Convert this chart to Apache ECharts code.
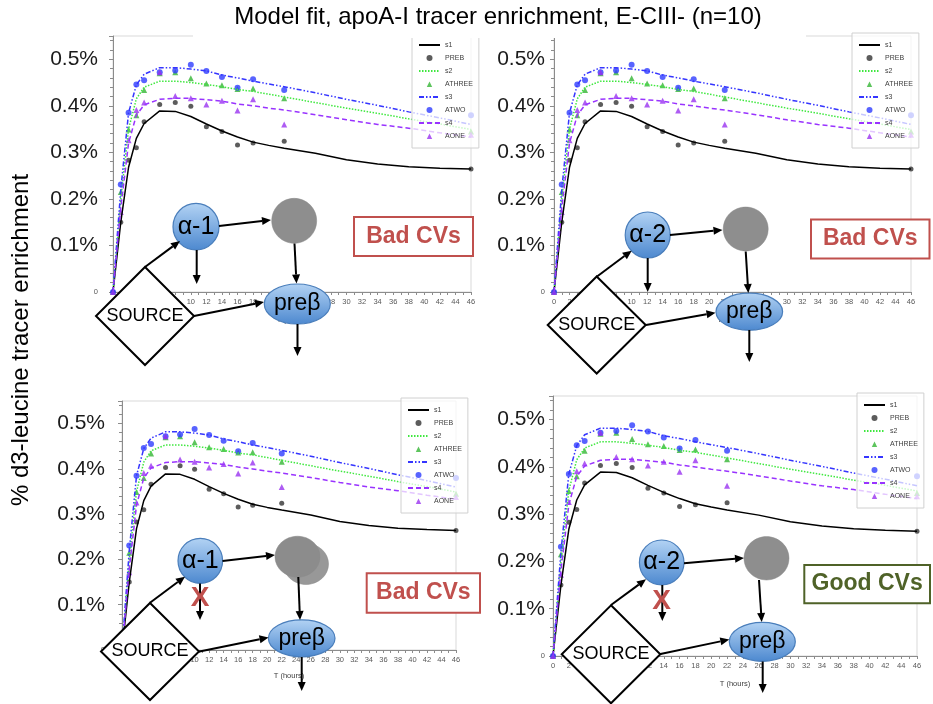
<!DOCTYPE html>
<html><head><meta charset="utf-8">
<script src="https://cdn.jsdelivr.net/npm/echarts@6/dist/echarts.min.js"></script>
<style>html,body{margin:0;padding:0;background:#fff}#c{width:933px;height:704px}</style>
</head><body><div id="c"></div>
<script>
// ---- data ----
const times = [0,1,2,3,4,6,8,10,12,14,16,18,22,46];
const prebValues   = [0,0.150,0.283,0.310,0.366,0.403,0.407,0.399,0.355,0.345,0.316,0.320,0.324,0.264];
const athreeValues = [0,0.215,0.349,0.380,0.434,0.470,0.472,0.459,0.448,0.444,0.436,0.437,0.416,0.345];
const atwoValues   = [0,0.231,0.385,0.446,0.455,0.472,0.476,0.488,0.475,0.462,0.439,0.457,0.434,0.380];
const aoneValues   = [0,0.172,0.326,0.391,0.407,0.472,0.421,0.416,0.403,0.411,0.390,0.414,0.360,0.338];
const modelTimes = [0,1,2,3,4,6,8,10,12,14,16,18,20,22,26,30,34,38,42,46];
const s1Values = [0,0.150,0.268,0.330,0.362,0.389,0.388,0.377,0.361,0.346,0.333,0.322,0.315,0.309,0.298,0.284,0.275,0.269,0.266,0.264];
const s2Values = [0,0.200,0.350,0.415,0.440,0.453,0.453,0.450,0.446,0.441,0.435,0.431,0.425,0.419,0.407,0.395,0.384,0.372,0.361,0.349];
const s3Values = [0,0.220,0.385,0.445,0.468,0.482,0.482,0.479,0.475,0.466,0.460,0.453,0.447,0.441,0.428,0.414,0.401,0.387,0.374,0.360];
const s4Values = [0,0.180,0.320,0.380,0.402,0.414,0.416,0.416,0.413,0.410,0.404,0.400,0.395,0.391,0.381,0.370,0.360,0.352,0.342,0.333];
const yTickLabels = ['0','0.1%','0.2%','0.3%','0.4%','0.5%'];
const lineNames = ['s1','s2','s3','s4'];
const triangleNames = ['ATHREE','AONE'];
const legendNames = ['s1','PREB','s2','ATHREE','s3','ATWO','s4','AONE'];
const titleText = 'Model fit, apoA-I tracer enrichment, E-CIII- (n=10)';
const yTitleText = '% d3-leucine tracer enrichment';
const xName = 'T (hours)';
const cvLabels = ['Bad CVs','Bad CVs','Bad CVs','Good CVs'];
const alphaLabels = ['α-1','α-2','α-1','α-2'];

// ---- layout ----
const FONT = 'Liberation Sans, Arial, sans-serif';
const panels = [
  {grid:{left:113,top:36,width:358,height:256}, legend:{left:412,top:33}, yMargin:15, nameGap:24},
  {grid:{left:554,top:36,width:357,height:256}, legend:{left:852,top:33}, yMargin:9, nameGap:24},
  {grid:{left:122,top:401,width:334,height:249}, legend:{left:401,top:398}, yMargin:17, nameGap:22},
  {grid:{left:553,top:396,width:364,height:260}, legend:{left:857,top:393}, yMargin:8, nameGap:24}
];

const zip = (xs, ys) => xs.map((x,i)=>[x, ys[i]]);
// small, non-stretched triangle icon inside a 21x5 box
const TRI_ICON = 'path://M0,0M21,6M7.8,6L13.2,6L10.5,0.6Z';
const legendData = legendNames.map(n => lineNames.includes(n)
  ? {name:n, itemStyle:{opacity:0, color:'rgba(0,0,0,0)', borderWidth:0}}
  : (triangleNames.includes(n) ? {name:n, icon:TRI_ICON} : {name:n}));

const grids=[], xAxes=[], yAxes=[], legends=[], series=[];
panels.forEach((p,i)=>{
  grids.push(Object.assign({show:true, borderColor:'#d9d9d9', borderWidth:1, backgroundColor:'transparent'}, p.grid));
  xAxes.push({type:'value', gridIndex:i, min:0, max:46, interval:2,
    name:xName, nameLocation:'middle', nameGap:p.nameGap,
    nameTextStyle:{fontSize:7.5, color:'#404040', fontFamily:FONT},
    axisLine:{lineStyle:{color:'#8c8c8c', width:1}},
    axisTick:{show:true, length:3, lineStyle:{color:'#8c8c8c'}},
    minorTick:{show:true, splitNumber:2, length:3, lineStyle:{color:'#8c8c8c'}},
    splitLine:{show:false},
    axisLabel:{fontSize:7.5, color:'#595959', fontFamily:FONT, margin:6}
  });
  yAxes.push({type:'value', gridIndex:i, min:0, max:0.55, interval:0.1,
    axisLine:{show:true, lineStyle:{color:'#8c8c8c', width:1}},
    axisTick:{show:true, length:4, lineStyle:{color:'#8c8c8c'}},
    minorTick:{show:true, splitNumber:5, length:3, lineStyle:{color:'#8c8c8c'}},
    splitLine:{show:false},
    axisLabel:{margin:p.yMargin, formatter:(v)=>{
        const k=Math.round(v*10);
        if(Math.abs(v*10-k)>1e-6 || k<0 || k>=yTickLabels.length) return '';
        return k===0 ? '{s|'+yTickLabels[0]+'}' : '{b|'+yTickLabels[k]+'}';
      },
      rich:{
        s:{fontSize:7.5, color:'#595959', fontFamily:FONT},
        b:{fontSize:21, color:'#1a1a1a', fontFamily:FONT}
      }}
  });
  legends.push({data:legendData, orient:'vertical', left:p.legend.left, top:p.legend.top,
    itemWidth:21, itemHeight:6, itemGap:5, padding:[8,6,8,6],
    backgroundColor:'rgba(255,255,255,0.72)', borderColor:'#d0d0d0', borderWidth:1,
    textStyle:{fontSize:7, color:'#404040', fontFamily:FONT, lineHeight:8}, selectedMode:false});
  const base = {xAxisIndex:i, yAxisIndex:i, animation:false};
  series.push(Object.assign({name:'s1', type:'line', data:zip(modelTimes,s1Values), symbol:'circle', showSymbol:false,
    color:'#000', lineStyle:{color:'#000', width:1.5, type:'solid'}}, base));
  series.push(Object.assign({name:'PREB', type:'scatter', data:zip(times,prebValues), symbol:'circle', symbolSize:5,
    itemStyle:{color:'#333333'}}, base));
  series.push(Object.assign({name:'s2', type:'line', data:zip(modelTimes,s2Values), symbol:'circle', showSymbol:false,
    color:'#3fe83f', lineStyle:{color:'#3fe83f', width:1.5, type:[1.5,1.5]}}, base));
  series.push(Object.assign({name:'ATHREE', type:'scatter', data:zip(times,athreeValues), symbol:'triangle', symbolSize:6,
    itemStyle:{color:'#35b535'}}, base));
  series.push(Object.assign({name:'s3', type:'line', data:zip(modelTimes,s3Values), symbol:'circle', showSymbol:false,
    color:'#3535ff', lineStyle:{color:'#3535ff', width:1.5, type:[5,2,1.5,2,1.5,2]}}, base));
  series.push(Object.assign({name:'ATWO', type:'scatter', data:zip(times,atwoValues), symbol:'circle', symbolSize:6,
    itemStyle:{color:'#2e3cff'}}, base));
  series.push(Object.assign({name:'s4', type:'line', data:zip(modelTimes,s4Values), symbol:'circle', showSymbol:false,
    color:'#9933ff', lineStyle:{color:'#9933ff', width:1.5, type:[5,3]}}, base));
  series.push(Object.assign({name:'AONE', type:'scatter', data:zip(times,aoneValues), symbol:'triangle', symbolSize:6,
    itemStyle:{color:'#9a33f0'}}, base));
});

// ---- diagram overlays ----
const G = [];
const Z = 100;
function arrow(x1,y1,x2,y2){
  const a=Math.atan2(y2-y1,x2-x1), L=9, W=4;
  const bx=x2-L*Math.cos(a), by=y2-L*Math.sin(a);
  G.push({type:'line', z:Z+2, shape:{x1,y1,x2:bx,y2:by}, style:{stroke:'#000', lineWidth:2}});
  G.push({type:'polygon', z:Z+2, shape:{points:[[x2,y2],[bx+W*Math.sin(a),by-W*Math.cos(a)],[bx-W*Math.sin(a),by+W*Math.cos(a)]]}, style:{fill:'#000'}});
}
const blueFill = ()=>({type:'linear',x:0,y:0,x2:0,y2:1,colorStops:[{offset:0,color:'#b3d3f4'},{offset:1,color:'#4c88cf'}]});
function blueEllipse(cx,cy,rx,ry,label,fs){
  G.push({type:'ellipse', z:Z+1, shape:{cx,cy,rx,ry}, style:{fill:blueFill(), stroke:'#4a7ebb', lineWidth:1.2}});
  G.push({type:'text', z:Z+3, x:cx, y:cy, style:{text:label, fontSize:fs, fontFamily:FONT, fill:'#000', align:'center', verticalAlign:'middle'}});
}
function grey(cx,cy,rx,ry,col){
  G.push({type:'ellipse', z:Z+1, shape:{cx,cy,rx,ry}, style:{fill:col||'#8e8e8e', stroke:'#8a8a8a', lineWidth:0.5}});
}
function diamond(cx,cy,hw,hh){
  G.push({type:'polygon', z:Z+1, shape:{points:[[cx,cy-hh],[cx+hw,cy],[cx,cy+hh],[cx-hw,cy]]}, style:{fill:'#fff', stroke:'#000', lineWidth:2}});
  G.push({type:'text', z:Z+3, x:cx, y:cy, style:{text:'SOURCE', fontSize:18, fontFamily:FONT, fill:'#000', align:'center', verticalAlign:'middle'}});
}
function cvBox(x1,y1,x2,y2,label,col){
  G.push({type:'rect', z:Z+1, shape:{x:x1,y:y1,width:x2-x1,height:y2-y1}, style:{fill:'#fff', stroke:col, lineWidth:2}});
  G.push({type:'text', z:Z+3, x:(x1+x2)/2, y:(y1+y2)/2, style:{text:label, fontSize:23, fontWeight:'bold', fontFamily:FONT, fill:col, align:'center', verticalAlign:'middle'}});
}
function redX(x,y){
  G.push({type:'text', z:Z+4, x, y, style:{text:'X', fontSize:28, fontWeight:'bold', fontFamily:FONT, fill:'#c0504d', align:'center', verticalAlign:'middle'}});
}
const RED='#c0504d', OLIVE='#4f6228';

// TL
diamond(145,316,49,49);
blueEllipse(196,226.7,23,23.3,alphaLabels[0],25);
grey(294.2,220.8,22.5,22.5);
blueEllipse(297.3,304,33,20,'preβ',23);
arrow(219,226,271,220);
arrow(196.7,250,196.7,284);
arrow(294.5,243.5,296.5,283.5);
arrow(145,267,180,241);
arrow(194,316,264,302);
arrow(297.5,324,297.5,356);
cvBox(354,217,473,256,cvLabels[0],RED);

// TR
diamond(596.7,325,49,48.5);
blueEllipse(647.7,235,22.5,23,alphaLabels[1],25);
grey(745.7,229,22.5,22);
blueEllipse(749.3,311.7,33.3,18.5,'preβ',23);
arrow(670,235,722.5,230);
arrow(647.7,258,647.7,292);
arrow(745.7,251.5,748.3,293);
arrow(596.7,276.7,631.7,250.7);
arrow(646,325,715.5,312.7);
arrow(749.3,330,749.3,362);
cvBox(811,219.5,929.5,258.5,cvLabels[1],RED);

// BL
diamond(150,651.5,49,48.5);
blueEllipse(200.3,560.8,22.3,22.5,alphaLabels[2],25);
grey(306,564,22.5,20.5,'#989898');
grey(297.5,556.7,22.5,20.5,'#8c8c8c');
blueEllipse(301.7,638.3,33.3,18.5,'preβ',23);
arrow(222.5,561,275,555);
arrow(200,583.5,200,620);
arrow(298.3,577,300,620);
arrow(150,602.7,185,576.7);
arrow(198.3,651.7,268.5,637.5);
arrow(301.7,657,301.7,691);
redX(200,598.5);
cvBox(366.7,573.3,480,612.7,cvLabels[2],RED);

// BR
diamond(611,654.3,49.3,49);
blueEllipse(661.7,562.5,22.3,22.5,alphaLabels[3],25);
grey(766.5,558.3,22.5,21.7);
blueEllipse(762.3,641.8,33,19.5,'preβ',23);
arrow(684,563.3,744,558);
arrow(662.3,585,662.3,621);
arrow(759,580,761.7,622);
arrow(611,605,646,579.3);
arrow(659.3,654.3,729.3,639.5);
arrow(762.7,661.5,762.7,693);
redX(661.7,601);
cvBox(804.3,565,930,603.3,cvLabels[3],OLIVE);

// title and axis title
G.push({type:'rect', z:Z, shape:{x:193,y:0,width:613,height:38}, style:{fill:'#fff'}});
G.push({type:'text', z:Z+3, x:498, y:17, style:{text:titleText, fontSize:24, fontFamily:FONT, fill:'#000', align:'center', verticalAlign:'middle'}});
G.push({type:'text', z:Z+3, x:21, y:340, rotation:Math.PI/2, style:{text:yTitleText, fontSize:24, fontFamily:FONT, fill:'#000', align:'center', verticalAlign:'middle'}});

const chart = echarts.init(document.getElementById('c'), null, {renderer:'canvas'});
chart.setOption({
  animation:false,
  backgroundColor:'#fff',
  grid:grids, xAxis:xAxes, yAxis:yAxes, legend:legends, series:series,
  graphic:{elements:G}
});
</script></body></html>
